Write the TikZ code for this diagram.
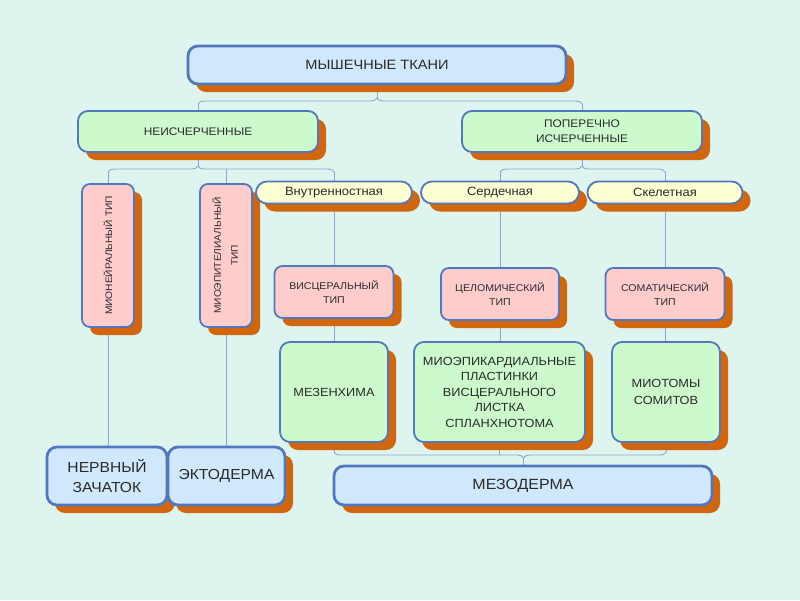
\documentclass[tikz,border=0pt]{standalone}
\usepackage{fontspec}
\setmainfont{Liberation Sans}[FakeStretch=1.08]
\usetikzlibrary{shadows,decorations.pathreplacing}
\definecolor{bgc}{HTML}{DDF4EF}
\definecolor{blueF}{HTML}{CFE8FB}
\definecolor{greenF}{HTML}{CCFACC}
\definecolor{pinkF}{HTML}{FFCCCC}
\definecolor{yellowF}{HTML}{FFFFD4}
\definecolor{bord}{HTML}{5078BE}
\definecolor{shad}{HTML}{D2660C}
\definecolor{connc}{HTML}{8DA6CF}
\definecolor{txt}{HTML}{2A2A2A}
\newcommand\fsz[2]{\fontsize{#1pt}{#2pt}\selectfont}
\pgfdeclarelayer{bg}
\pgfdeclarelayer{lines}
\pgfsetlayers{bg,lines,main}
\tikzset{
  box/.style={draw=bord, line width=1.8pt, text=txt, align=center, inner sep=2pt,
    drop shadow={shadow xshift=8pt, shadow yshift=-8pt, fill=shad, opacity=1}},
  bluebox/.style={box, fill=blueF, line width=2.8pt, rounded corners=10pt},
  greenbox/.style={box, fill=greenF, rounded corners=10pt},
  pinkbox/.style={box, fill=pinkF, rounded corners=8pt},
  pillbox/.style={box, fill=yellowF, rounded corners=11pt, minimum height=22pt, minimum width=156pt, font=\fsz{12}{13}},
  conn/.style={draw=connc, line width=0.9pt},
  bracec/.style={conn, decorate, decoration={brace, amplitude=6pt, aspect=#1}}
}
\begin{document}
\begin{tikzpicture}[x=1pt,y=-1pt]
\begin{pgfonlayer}{bg}
\fill[bgc] (0,0) rectangle (800,600);
\end{pgfonlayer}
\useasboundingbox (0,0) rectangle (800,600);

% level 0
\node[bluebox, minimum width=378pt, minimum height=38pt, font=\fsz{13.5}{16}] (top) at (377,65) {МЫШЕЧНЫЕ ТКАНИ};
% level 1
\node[greenbox, minimum width=240pt, minimum height=41pt, font=\fsz{11}{14}] (neisch) at (198,131.5) {НЕИСЧЕРЧЕННЫЕ};
\node[greenbox, minimum width=240pt, minimum height=41pt, font=\fsz{11}{15}] (poper) at (582,131.5) {ПОПЕРЕЧНО\\ИСЧЕРЧЕННЫЕ};
% level 2
\node[pinkbox, minimum width=52pt, minimum height=143pt, font=\fsz{9.4}{12}] (mnr) at (108,255.5) {\rotatebox{90}{МИОНЕЙРАЛЬНЫЙ ТИП}};
\node[pinkbox, minimum width=52pt, minimum height=143pt, font=\fsz{9.4}{17}] (mep) at (226,255.5) {\rotatebox{90}{\begin{tabular}{@{}c@{}}МИОЭПИТЕЛИАЛЬНЫЙ\\ТИП\end{tabular}}};
\node[pillbox] (vn) at (334,192.5) {Внутренностная};
\node[pillbox, minimum width=158pt] (sd) at (500,192.5) {Сердечная};
\node[pillbox, minimum width=155pt] (sk) at (665,192.5) {Скелетная};
% level 3
\node[pinkbox, minimum width=119pt, minimum height=52pt, font=\fsz{9.8}{14}] (visc) at (334,292) {ВИСЦЕРАЛЬНЫЙ\\ТИП};
\node[pinkbox, minimum width=118pt, minimum height=52pt, font=\fsz{9.8}{14}] (celom) at (500,294) {ЦЕЛОМИЧЕСКИЙ\\ТИП};
\node[pinkbox, minimum width=119pt, minimum height=52pt, font=\fsz{9.8}{14}] (somat) at (665,294) {СОМАТИЧЕСКИЙ\\ТИП};
% level 4
\node[greenbox, minimum width=108pt, minimum height=100pt, font=\fsz{11.8}{15.5}] (mez) at (334,392) {МЕЗЕНХИМА};
\node[greenbox, minimum width=171pt, minimum height=100pt, font=\fsz{11.8}{15.5}] (mek) at (499.5,392) {МИОЭПИКАРДИАЛЬНЫЕ\\ПЛАСТИНКИ\\ВИСЦЕРАЛЬНОГО\\ЛИСТКА\\СПЛАНХНОТОМА};
\node[greenbox, minimum width=108pt, minimum height=100pt, font=\fsz{11.8}{16.5}] (mio) at (666,392) {МИОТОМЫ\\СОМИТОВ};
% level 5
\node[bluebox, minimum width=120pt, minimum height=58pt, font=\fsz{14.5}{20}] (nerv) at (107,476) {НЕРВНЫЙ\\ЗАЧАТОК};
\node[bluebox, minimum width=117pt, minimum height=58pt, font=\fsz{14.5}{18}] (ekto) at (226.5,476) {ЭКТОДЕРМА};
\node[bluebox, minimum width=378pt, minimum height=39pt, font=\fsz{14.8}{18}] (mezo) at (523,485.5) {МЕЗОДЕРМА};

% helper coordinates
\coordinate (ya) at (0,104);
\coordinate (yat) at (0,98);
\coordinate (yb) at (0,172);
\coordinate (ybt) at (0,166);
\coordinate (ybh) at (0,169);
\coordinate (yc) at (0,452);
\coordinate (ych) at (0,455);
\coordinate (yct) at (0,458);
\coordinate (xm) at (523,0);

\begin{pgfonlayer}{lines}
% top brace
\draw[bracec=0.466] (neisch.north |- ya) -- (poper.north |- ya);
\draw[conn] (top.south) -- (top.south |- yat);
\draw[conn] (neisch.north |- ya) -- (neisch.north);
\draw[conn] (poper.north |- ya) -- (poper.north);
% left brace
\draw[bracec=0.398] (mnr.north |- yb) -- (vn.north |- yb);
\draw[conn] (neisch.south) -- (neisch.south |- ybt);
\draw[conn] (mnr.north |- yb) -- (mnr.north);
\draw[conn] (mep.north |- ybh) -- (mep.north);
\draw[conn] (vn.north |- yb) -- (vn.north);
% right brace
\draw[bracec=0.497] (sd.north |- yb) -- (sk.north |- yb);
\draw[conn] (poper.south) -- (poper.south |- ybt);
\draw[conn] (sd.north |- yb) -- (sd.north);
\draw[conn] (sk.north |- yb) -- (sk.north);
% verticals
\draw[conn] (vn.south) -- (vn.south |- visc.north);
\draw[conn] (visc.south) -- (visc.south |- mez.north);
\draw[conn] (sd.south) -- (sd.south |- celom.north);
\draw[conn] (celom.south) -- (celom.south |- mek.north);
\draw[conn] (sk.south) -- (sk.south |- somat.north);
\draw[conn] (somat.south) -- (somat.south |- mio.north);
\draw[conn] (mnr.south) -- (mnr.south |- nerv.north);
\draw[conn] (mep.south) -- (mep.south |- ekto.north);
% bottom brace
\draw[bracec=0.429] (mio.south |- yc) -- (mez.south |- yc);
\draw[conn] (mez.south) -- (mez.south |- yc);
\draw[conn] (mio.south) -- (mio.south |- yc);
\draw[conn] (mek.south) -- (mek.south |- ych);
\draw[conn] (xm |- yct) -- (mezo.north);
\end{pgfonlayer}
\end{tikzpicture}
\end{document}
